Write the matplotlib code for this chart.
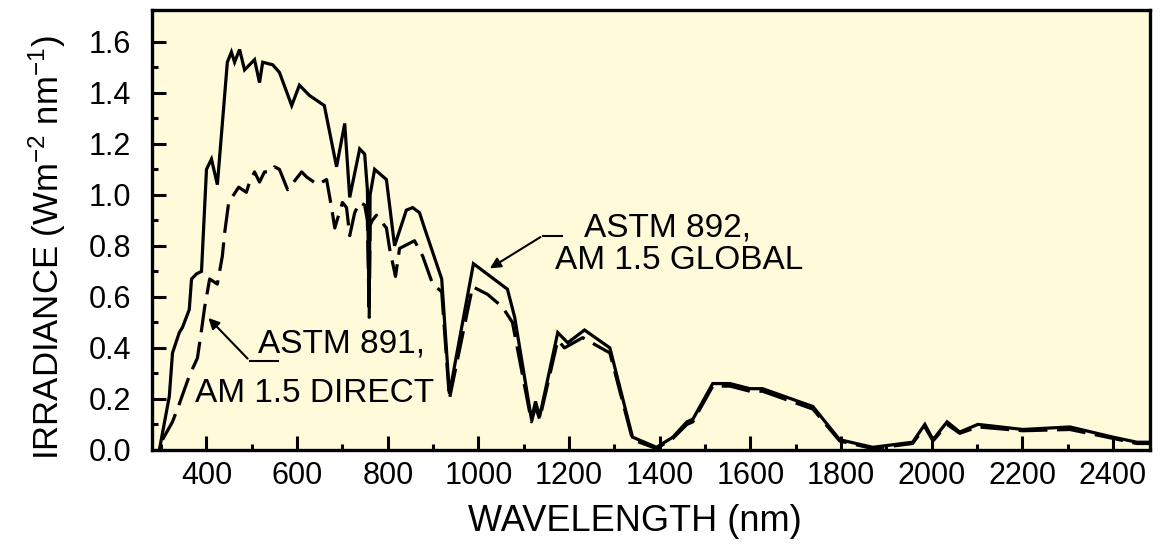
#Solar spectrum plot - AM 1.5 global and direct

import matplotlib.pyplot as plt
from matplotlib.ticker import MultipleLocator, FixedLocator

plt.rcParams['font.family'] = ['Liberation Sans', 'DejaVu Sans']
plt.rcParams['mathtext.fontset'] = 'custom'
plt.rcParams['mathtext.rm'] = 'Liberation Sans'
plt.rcParams['mathtext.it'] = 'Liberation Sans'

# ASTM 892, AM 1.5 GLOBAL (solid line)
global_wl = [296, 318, 325, 340, 347, 362, 367, 378, 389, 400, 411, 424, 446, 455,
             462, 473, 484, 506, 517, 524, 546, 561, 588, 605, 627, 660, 687, 705,
             716, 738, 749, 755, 759, 761, 771, 797, 815, 841, 855, 870, 881, 919,
             936, 989, 1064, 1080, 1117, 1126, 1135, 1175, 1197, 1234, 1290, 1340,
             1393, 1429, 1460, 1473, 1517, 1555, 1599, 1627, 1738, 1797, 1870, 1958,
             1985, 2003, 2034, 2062, 2102, 2201, 2305, 2400, 2453, 2480]
global_irr = [0.00, 0.21, 0.38, 0.46, 0.48, 0.55, 0.67, 0.69, 0.70, 1.10, 1.14, 1.04,
              1.52, 1.56, 1.52, 1.57, 1.49, 1.53, 1.44, 1.52, 1.51, 1.48, 1.35, 1.43,
              1.39, 1.35, 1.11, 1.28, 0.99, 1.18, 1.16, 1.02, 0.56, 1.00, 1.10, 1.06,
              0.80, 0.94, 0.95, 0.93, 0.87, 0.67, 0.22, 0.73, 0.63, 0.52, 0.12, 0.19,
              0.13, 0.46, 0.42, 0.47, 0.40, 0.05, 0.01, 0.05, 0.11, 0.12, 0.26, 0.26,
              0.24, 0.24, 0.17, 0.04, 0.01, 0.03, 0.10, 0.04, 0.11, 0.07, 0.10, 0.08,
              0.09, 0.05, 0.03, 0.03]

# ASTM 891, AM 1.5 DIRECT (dashed line)
direct_wl = [303, 325, 340, 362, 380, 389, 396, 407, 424, 435, 440, 449, 471, 488,
             495, 506, 517, 528, 543, 550, 561, 579, 610, 621, 645, 665, 676, 683,
             700, 709, 716, 727, 738, 749, 755, 759, 761, 766, 775, 797, 804, 817,
             826, 859, 877, 899, 919, 936, 987, 1020, 1053, 1075, 1117, 1126, 1135,
             1175, 1190, 1230, 1290, 1340, 1393, 1429, 1460, 1473, 1517, 1555, 1599,
             1627, 1738, 1797, 1870, 1958, 1985, 2003, 2034, 2062, 2102, 2201, 2305,
             2400, 2453, 2480]
direct_irr = [0.04, 0.11, 0.18, 0.29, 0.36, 0.47, 0.56, 0.67, 0.65, 0.76, 0.85, 0.97,
              1.03, 1.01, 1.05, 1.09, 1.05, 1.09, 1.09, 1.11, 1.10, 1.02, 1.09, 1.07,
              1.04, 1.06, 0.95, 0.87, 0.97, 0.95, 0.84, 0.93, 0.97, 0.96, 0.90, 0.52,
              0.88, 0.90, 0.92, 0.87, 0.79, 0.68, 0.79, 0.82, 0.76, 0.65, 0.62, 0.20,
              0.64, 0.61, 0.56, 0.50, 0.11, 0.17, 0.12, 0.43, 0.40, 0.44, 0.38, 0.04,
              0.005, 0.045, 0.10, 0.11, 0.25, 0.25, 0.23, 0.23, 0.16, 0.035, 0.005,
              0.025, 0.09, 0.035, 0.10, 0.065, 0.09, 0.075, 0.08, 0.045, 0.025, 0.025]

x_ticks = [400, 600, 800, 1000, 1200, 1400, 1600, 1800, 2000, 2200, 2400]
y_ticks = [0.0, 0.2, 0.4, 0.6, 0.8, 1.0, 1.2, 1.4, 1.6]

fig = plt.figure(figsize=(11.7, 5.52), dpi=100)
ax = fig.add_axes([0.130, 0.185, 0.853, 0.797])
ax.set_facecolor('#FFFBDA')

ax.plot(global_wl, global_irr, color='black', lw=2.3, solid_joinstyle='miter')
ax.plot(direct_wl, direct_irr, color='black', lw=2.3, dashes=(9, 3))

ax.set_xlim(280, 2482)
ax.set_ylim(0, 1.725)

# ticks inside, bold frame
ax.set_xticks(x_ticks)
ax.set_yticks(y_ticks)
ax.set_yticklabels(['%.1f' % v for v in y_ticks])
ax.xaxis.set_minor_locator(MultipleLocator(100))
ax.yaxis.set_minor_locator(FixedLocator([0.1, 0.3, 0.5, 0.7, 0.9, 1.1, 1.3, 1.5]))
ax.tick_params(which='both', direction='in', width=2.2, labelsize=22)
ax.tick_params(which='major', length=10)
ax.tick_params(which='minor', length=4.5)
ax.tick_params(axis='x', which='major', pad=8)
ax.tick_params(axis='y', which='major', pad=15)
for s in ax.spines.values():
    s.set_linewidth(2.4)

ax.set_xlabel('WAVELENGTH (nm)', fontsize=26)
ax.xaxis.set_label_coords(0.484, -0.122)
ax.set_ylabel('IRRADIANCE (Wm$^{-2}$ nm$^{-1}$)', fontsize=25)
ax.yaxis.set_label_coords(-0.084, 0.46)

# labels with arrows
ax.annotate('', xy=(400, 0.525), xytext=(495, 0.35),
            arrowprops=dict(arrowstyle='-|>', color='black', lw=1.5, mutation_scale=16))
ax.plot([495, 557], [0.35, 0.35], color='black', lw=1.5)
ax.text(513, 0.38, 'ASTM 891,', fontsize=24, va='baseline', ha='left')
ax.text(374, 0.188, 'AM 1.5 DIRECT', fontsize=24, va='baseline', ha='left')

ax.annotate('', xy=(1020, 0.706), xytext=(1142, 0.84),
            arrowprops=dict(arrowstyle='-|>', color='black', lw=1.5, mutation_scale=16))
ax.plot([1142, 1184], [0.84, 0.84], color='black', lw=1.5)
ax.text(1234, 0.835, 'ASTM 892,', fontsize=24, va='baseline', ha='left')
ax.text(1168, 0.71, 'AM 1.5 GLOBAL', fontsize=24, va='baseline', ha='left')

plt.savefig('out.png', dpi=100)
